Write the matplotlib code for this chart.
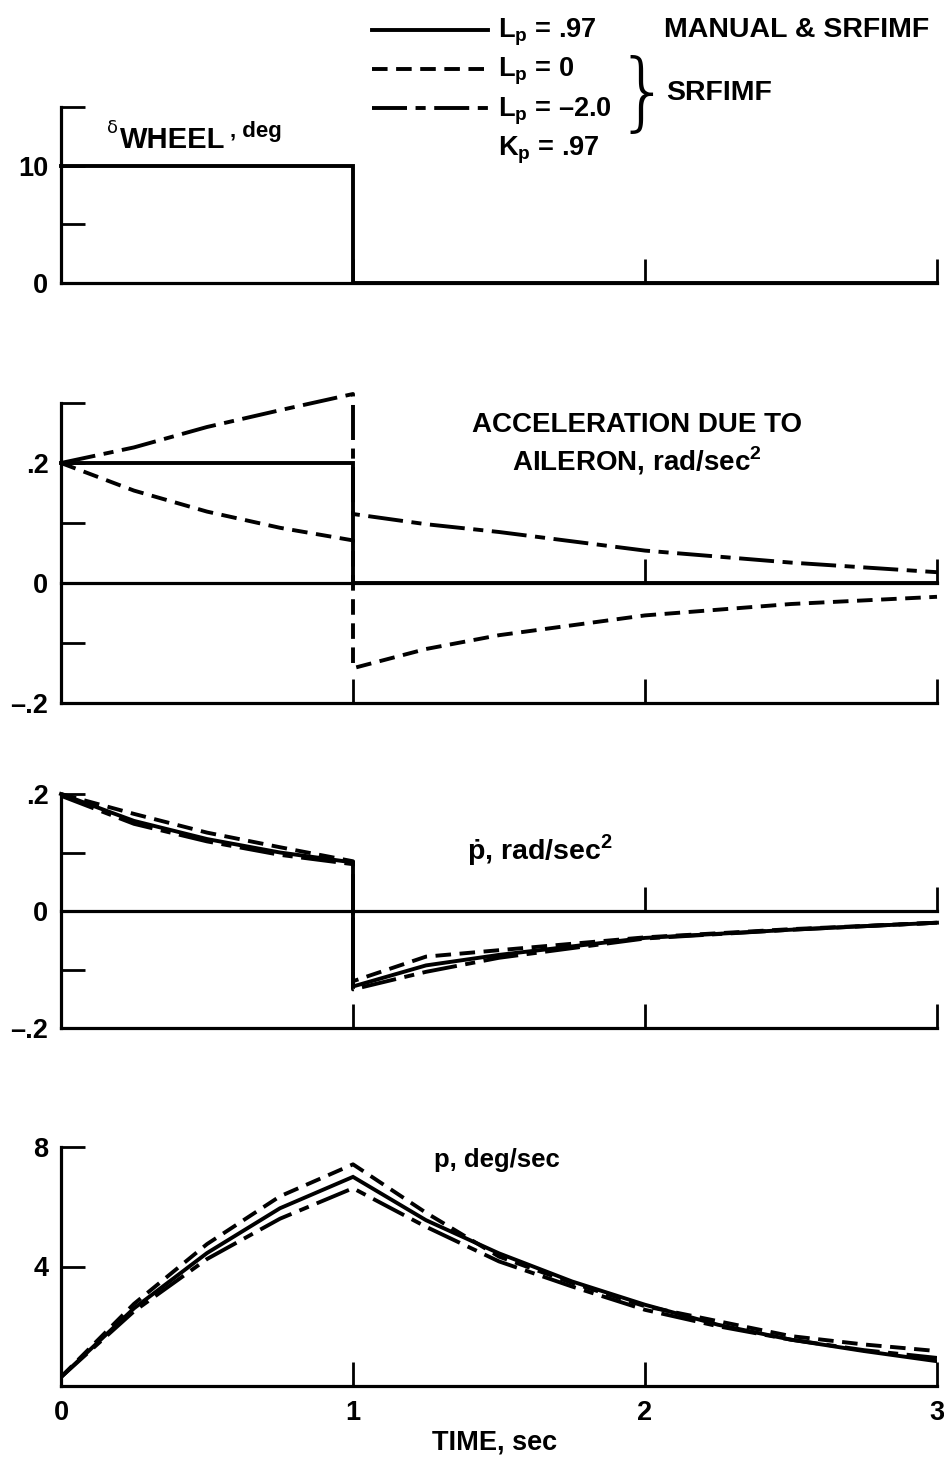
import matplotlib
matplotlib.use('Agg')
import matplotlib.pyplot as plt
from matplotlib import font_manager as fm
from matplotlib.lines import Line2D

# ---------------- data ----------------
t_wheel = [0, 1, 1, 3]
wheel_deg = [10, 10, 0, 0]

t_acc_manual = [0, 1, 1, 3]
acc_manual = [0.2, 0.2, 0.0, 0.0]

t_seg = [0, 0.25, 0.5, 0.75, 1.0, 1.0, 1.25, 1.5, 2.0, 2.5, 3.0]
acc_lp0 = [0.2, 0.154, 0.119, 0.092, 0.071, -0.142, -0.11, -0.087, -0.054, -0.035, -0.023]
acc_lpm2 = [0.2, 0.226, 0.26, 0.288, 0.315, 0.115, 0.098, 0.085, 0.054, 0.034, 0.018]

pdot_manual = [0.2, 0.154, 0.123, 0.10, 0.083, -0.129, -0.093, -0.075, -0.046, -0.032, -0.02]
pdot_lp0 = [0.2, 0.166, 0.134, 0.109, 0.085, -0.12, -0.078, -0.067, -0.045, -0.031, -0.02]
pdot_lpm2 = [0.197, 0.149, 0.119, 0.096, 0.08, -0.134, -0.104, -0.08, -0.047, -0.032, -0.02]

t_p = [0, 0.25, 0.5, 0.75, 1.0, 1.25, 1.5, 1.75, 2.0, 2.25, 2.5, 2.75, 3.0]
p_manual = [0.3, 2.6, 4.45, 5.95, 7.0, 5.55, 4.44, 3.5, 2.72, 2.05, 1.55, 1.17, 0.83]
p_lp0 = [0.3, 2.75, 4.75, 6.35, 7.42, 5.8, 4.33, 3.45, 2.67, 2.17, 1.67, 1.39, 1.17]
p_lpm2 = [0.3, 2.5, 4.25, 5.6, 6.62, 5.33, 4.17, 3.33, 2.55, 2.0, 1.55, 1.2, 0.94]

x_ticks = [0, 1, 2, 3]
x_ticklabels = ['0', '1', '2', '3']

# ---------------- fonts ----------------
def pick(cands):
    for c in cands:
        try:
            fm.findfont(fm.FontProperties(family=c), fallback_to_default=False)
            return c
        except Exception:
            pass
    return 'DejaVu Sans'

FONT = pick(['Liberation Sans', 'Arimo', 'DejaVu Sans'])
plt.rcParams['font.family'] = [FONT, 'DejaVu Sans']
plt.rcParams['font.weight'] = 'bold'
plt.rcParams['mathtext.fontset'] = 'custom'
plt.rcParams['mathtext.rm'] = FONT + ':bold'
plt.rcParams['mathtext.bf'] = FONT + ':bold'

W, H = 945, 1460
fig = plt.figure(figsize=(W / 100, H / 100), dpi=100)

FS = 19.5
LW = 2.8
solid = dict(color='black', lw=LW, ls='-', solid_joinstyle='miter')
dashed = dict(color='black', lw=LW, ls=(0, (4.0, 2.2)))
dashdot = dict(color='black', lw=LW, ls=(0, (9.0, 2.2, 2.6, 2.2)))

def frac(x0, y_top, y_bot):
    return [x0 / W, 1 - y_bot / H, (937 - x0) / W, (y_bot - y_top) / H]

X0 = 61
ax1 = fig.add_axes(frac(X0, 107, 283))
ax2 = fig.add_axes(frac(X0, 403, 703))
ax3 = fig.add_axes(frac(X0, 794, 1028))
ax4 = fig.add_axes(frac(X0, 1147, 1386))

SP_LW = 2.3
TK = dict(direction='in', length=17, width=2.0, color='black')
for ax in (ax1, ax2, ax3, ax4):
    ax.set_xlim(0, 3)
    for s in ('top', 'right'):
        ax.spines[s].set_visible(False)
    for s in ('left', 'bottom'):
        ax.spines[s].set_linewidth(SP_LW)
    ax.tick_params(axis='y', labelsize=FS, pad=9, **TK)
    ax.tick_params(axis='x', labelsize=FS, pad=10, **TK)
    ax.patch.set_alpha(0)

# panel 1
ax1.plot(t_wheel, wheel_deg, clip_on=False, **solid)
ax1.set_ylim(0, 15)
ax1.set_yticks([0, 5, 10, 15])
ax1.set_yticklabels(['0', '', '10', ''])
ax1.set_xticks([1, 2, 3])
ax1.tick_params(axis='x', labelbottom=False)

# panel 2
ax2.plot(t_acc_manual, acc_manual, clip_on=False, **solid)
ax2.plot(t_seg, acc_lp0, clip_on=False, **dashed)
ax2.plot(t_seg, acc_lpm2, clip_on=False, **dashdot)
ax2.set_ylim(-0.2, 0.3)
ax2.set_yticks([-0.2, -0.1, 0, 0.1, 0.2, 0.3])
ax2.set_yticklabels(['\u2013.2', '', '0', '', '.2', ''])
ax2.set_xticks([1, 2, 3])
ax2.tick_params(axis='x', labelbottom=False)

# panel 3
ax3.plot(t_seg, pdot_manual, clip_on=False, **solid)
ax3.plot(t_seg, pdot_lp0, clip_on=False, **dashed)
ax3.plot(t_seg, pdot_lpm2, clip_on=False, **dashdot)
ax3.set_ylim(-0.2, 0.2)
ax3.set_yticks([-0.2, -0.1, 0, 0.1, 0.2])
ax3.set_yticklabels(['\u2013.2', '', '0', '', '.2'])
ax3.set_xticks([1, 2, 3])
ax3.tick_params(axis='x', labelbottom=False)

# zero lines with their own upward ticks
for ax, loc in ((ax2, 0.4), (ax3, 0.5)):
    sec = ax.secondary_xaxis(loc)
    sec.set_xticks([2, 3])
    sec.xaxis.set_ticks_position('bottom')
    sec.tick_params(axis='x', labelbottom=False, labeltop=False, **TK)
    sec.spines['bottom'].set_visible(True)
    sec.spines['bottom'].set_linewidth(SP_LW)
    sec.spines['top'].set_visible(False)

# panel 4
ax4.plot(t_p, p_manual, **solid)
ax4.plot(t_p, p_lp0, **dashed)
ax4.plot(t_p, p_lpm2, **dashdot)
ax4.set_ylim(0, 8)
ax4.set_yticks([0, 4, 8])
ax4.set_yticklabels(['', '4', '8'])
ax4.set_xticks(x_ticks)
ax4.set_xticklabels(x_ticklabels)

# ---------------- texts ----------------
def ftxt(x, y, s, **kw):
    kw.setdefault('va', 'center')
    return fig.text(x / W, 1 - y / H, s, **kw)

ftxt(107, 128, '\u03b4', fontsize=13, fontweight='normal', family='DejaVu Sans')
ftxt(120, 140, 'WHEEL', fontsize=21)
ftxt(230, 131, ', deg', fontsize=16)

ftxt(637, 425, 'ACCELERATION DUE TO', fontsize=FS + 0.5, ha='center')
ftxt(637, 461, r'AILERON, rad/sec$^\mathregular{2}$', fontsize=FS + 0.5, ha='center')
ftxt(540, 850, '\u1e57, rad/sec$^\\mathregular{2}$', fontsize=FS + 1, ha='center')
ftxt(497, 1160, 'p, deg/sec', fontsize=FS - 1, ha='center')
ftxt(495, 1442, 'TIME, sec', fontsize=FS, ha='center')

# legend block
rows = [(30, solid), (69, dashed), (108, dashdot)]
for y, sty in rows:
    fig.add_artist(Line2D([372 / W, 488 / W], [1 - y / H, 1 - y / H], **sty))
ftxt(498, 32, r'L$_\mathregular{p}$ = .97', fontsize=FS)
ftxt(498, 71, r'L$_\mathregular{p}$ = 0', fontsize=FS)
ftxt(498, 111, 'L$_\\mathregular{p}$ = \u20132.0', fontsize=FS)
ftxt(498, 150, r'K$_\mathregular{p}$ = .97', fontsize=FS)
ftxt(664, 30, 'MANUAL & SRFIMF', fontsize=FS + 1)
ftxt(643, 96, '}', fontsize=62, fontweight='light', family='DejaVu Sans', ha='center')
ftxt(666, 93, 'SRFIMF', fontsize=FS + 1)

fig.savefig('out.png', dpi=100, facecolor='white')
